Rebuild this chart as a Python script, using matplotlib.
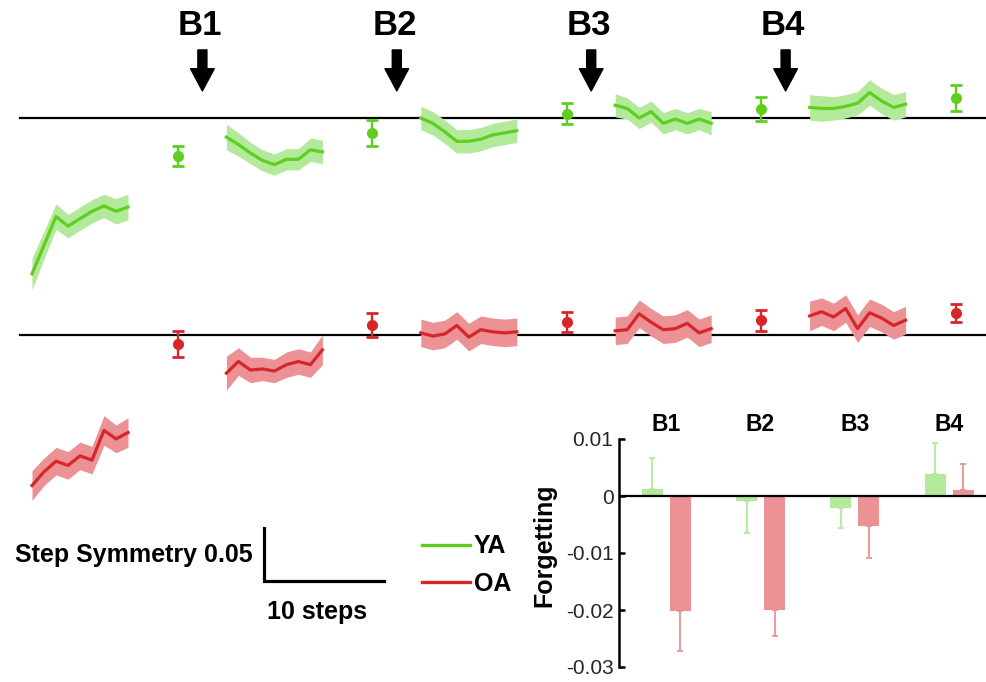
import matplotlib
matplotlib.use("Agg")
import matplotlib.pyplot as plt
import numpy as np

plt.rcParams["font.family"] = ["Liberation Sans", "DejaVu Sans"]

# step symmetry traces, 5 segments x 9 steps (baseline-relative)
YA_MEAN = [
    [-0.147, -0.120, -0.093, -0.102, -0.095, -0.088, -0.083, -0.088, -0.084],
    [-0.018, -0.025, -0.033, -0.040, -0.044, -0.039, -0.039, -0.030, -0.032],
    [0.000, -0.005, -0.013, -0.022, -0.022, -0.020, -0.016, -0.014, -0.012],
    [0.012, 0.009, 0.000, 0.006, -0.005, -0.001, -0.005, -0.001, -0.005],
    [0.010, 0.009, 0.009, 0.011, 0.014, 0.024, 0.016, 0.010, 0.013],
]
YA_SE = [
    [0.015, 0.013, 0.012, 0.011, 0.011, 0.011, 0.011, 0.012, 0.012],
    [0.012, 0.011, 0.010, 0.010, 0.010, 0.010, 0.010, 0.011, 0.011],
    [0.011, 0.011, 0.011, 0.011, 0.011, 0.011, 0.011, 0.011, 0.011],
    [0.011, 0.010, 0.010, 0.010, 0.010, 0.010, 0.010, 0.010, 0.011],
    [0.012, 0.012, 0.011, 0.011, 0.011, 0.012, 0.012, 0.012, 0.012],
]
OA_MEAN = [
    [-0.142, -0.129, -0.119, -0.123, -0.114, -0.118, -0.090, -0.098, -0.092],
    [-0.036, -0.025, -0.033, -0.032, -0.034, -0.028, -0.025, -0.028, -0.014],
    [0.002, -0.001, 0.001, 0.009, -0.002, 0.005, 0.003, 0.002, 0.003],
    [0.004, 0.005, 0.020, 0.012, 0.005, 0.006, 0.011, 0.002, 0.006],
    [0.018, 0.022, 0.017, 0.025, 0.006, 0.021, 0.016, 0.009, 0.014],
]
OA_SE = [
    [0.014, 0.013, 0.013, 0.013, 0.013, 0.013, 0.014, 0.013, 0.014],
    [0.016, 0.013, 0.012, 0.011, 0.011, 0.012, 0.012, 0.012, 0.014],
    [0.013, 0.013, 0.013, 0.013, 0.013, 0.013, 0.013, 0.013, 0.013],
    [0.013, 0.013, 0.013, 0.013, 0.013, 0.013, 0.013, 0.013, 0.013],
    [0.014, 0.013, 0.013, 0.013, 0.013, 0.013, 0.013, 0.013, 0.013],
]
# retention points after each segment
YA_PT = [-0.036, -0.014, 0.004, 0.0085, 0.019]
YA_PT_ERR = [0.0094, 0.012, 0.010, 0.011, 0.012]
OA_PT = [-0.0085, 0.0094, 0.012, 0.014, 0.021]
OA_PT_ERR = [0.012, 0.011, 0.0095, 0.010, 0.0085]

BLOCKS = ["B1", "B2", "B3", "B4"]
FORGET_YA = [0.0012, -0.0009, -0.0021, 0.0038]
FORGET_YA_ERR = [0.0055, 0.0056, 0.0035, 0.0055]
FORGET_OA = [-0.0202, -0.0200, -0.0053, 0.0010]
FORGET_OA_ERR = [0.0070, 0.0046, 0.0056, 0.0046]

VERDE = "#5fcf1f"
VERDE_CLARO = "#b2e99a"
VERMELHO = "#d7262a"
VERMELHO_CLARO = "#ec9294"

OFFSET_OA = -0.2047
PERIODO = 16.2
ATRASO_PT = 12.17

fig = plt.figure(figsize=(9.87, 6.82), dpi=100)
ax = fig.add_axes([0, 0, 1, 1])
ax.set_xlim(-32 / 12, 955 / 12)
ax.set_ylim(-0.532, 0.1113)
ax.axis("off")

ax.axhline(0, xmin=0.02, color="black", lw=1.6, zorder=1)
ax.axhline(OFFSET_OA, xmin=0.02, color="black", lw=1.6, zorder=1)

for media, se, pt, pt_err, cor, cor_claro, off in [
    (YA_MEAN, YA_SE, YA_PT, YA_PT_ERR, VERDE, VERDE_CLARO, 0.0),
    (OA_MEAN, OA_SE, OA_PT, OA_PT_ERR, VERMELHO, VERMELHO_CLARO, OFFSET_OA),
]:
    for k in range(5):
        x = k * PERIODO + np.arange(len(media[k]))
        m = np.array(media[k]) + off
        s = np.array(se[k])
        ax.fill_between(x, m - s, m + s, color=cor_claro, lw=0, zorder=2)
        ax.plot(x, m, color=cor, lw=2.3, zorder=3)
        ax.errorbar(k * PERIODO + ATRASO_PT, pt[k] + off, yerr=pt_err[k],
                    fmt="o", color=cor, ms=7, lw=1.7, capsize=4.6,
                    capthick=2.0, zorder=4)

for i, b in enumerate(BLOCKS):
    xa = (i + 1) * PERIODO - 2.0
    ax.annotate("", xy=(xa, 0.0255), xytext=(xa, 0.0642),
                arrowprops=dict(width=6.5, headwidth=17, headlength=16,
                                shrink=0, color="black"))
    ax.text(xa - 0.2, 0.0873, b, ha="center", va="center",
            fontsize=25, fontweight="bold")

# barra de escala
xs, ys = 19.33, -0.437
ax.plot([xs, xs, xs + 10], [ys + 0.05, ys, ys], color="black", lw=2.3,
        solid_joinstyle="miter")
ax.text(18.42, -0.412, "Step Symmetry 0.05", ha="right", va="center",
        fontsize=18, fontweight="bold")
ax.text(xs + 4.4, -0.466, "10 steps", ha="center", va="center",
        fontsize=18, fontweight="bold")

h_ya, = ax.plot([], [], color=VERDE, lw=2.4)
h_oa, = ax.plot([], [], color=VERMELHO, lw=2.4)
fig.legend([h_ya, h_oa], ["YA", "OA"], loc="upper left",
           bbox_to_anchor=(0.4276, 0.2163), frameon=False,
           prop=dict(weight="bold", size=18), handlelength=1.92,
           handletextpad=0.16, labelspacing=0.55, borderpad=0,
           borderaxespad=0)

# inset: esquecimento
ins = fig.add_axes([619 / 987, 15 / 682, 368 / 987, 228 / 682])
pos = np.arange(1, len(BLOCKS) + 1)
larg = 0.222
for vals, errs, cor, dx in [
    (FORGET_YA, FORGET_YA_ERR, VERDE_CLARO, -0.148),
    (FORGET_OA, FORGET_OA_ERR, VERMELHO_CLARO, 0.148),
]:
    vals = np.array(vals)
    errs = np.array(errs)
    ins.bar(pos + dx, vals, width=larg, color=cor, zorder=2)
    lower = np.where(vals < 0, errs, 0)
    upper = np.where(vals >= 0, errs, 0)
    ins.errorbar(pos + dx, vals, yerr=[lower, upper], fmt="none",
                 ecolor=cor, elinewidth=1.3, capsize=2.3, capthick=1.3,
                 zorder=1)
ins.axhline(0, color="black", lw=1.6, zorder=3)
ins.set_xlim(0.5, 4.4)
ins.set_ylim(-0.03, 0.01)
ins.set_yticks([0.01, 0, -0.01, -0.02, -0.03])
ins.set_yticklabels(["0.01", "0", "-0.01", "-0.02", "-0.03"])
ins.tick_params(axis="y", direction="in", length=4, width=1.8,
                labelsize=15, labelcolor="#262626", pad=4)
ins.set_xticks([])
for lado in ["top", "right", "bottom"]:
    ins.spines[lado].set_visible(False)
ins.spines["left"].set_linewidth(1.8)
ins.patch.set_alpha(0)
ins.set_ylabel("Forgetting", fontsize=18, fontweight="bold")
ins.yaxis.set_label_coords(-0.171, 0.535)
for p, b in zip(pos, BLOCKS):
    ins.text(p, 1.062, b, transform=ins.get_xaxis_transform(), ha="center",
             va="center", fontsize=16.5, fontweight="bold")

plt.savefig("out.png", dpi=100)
plt.close()
